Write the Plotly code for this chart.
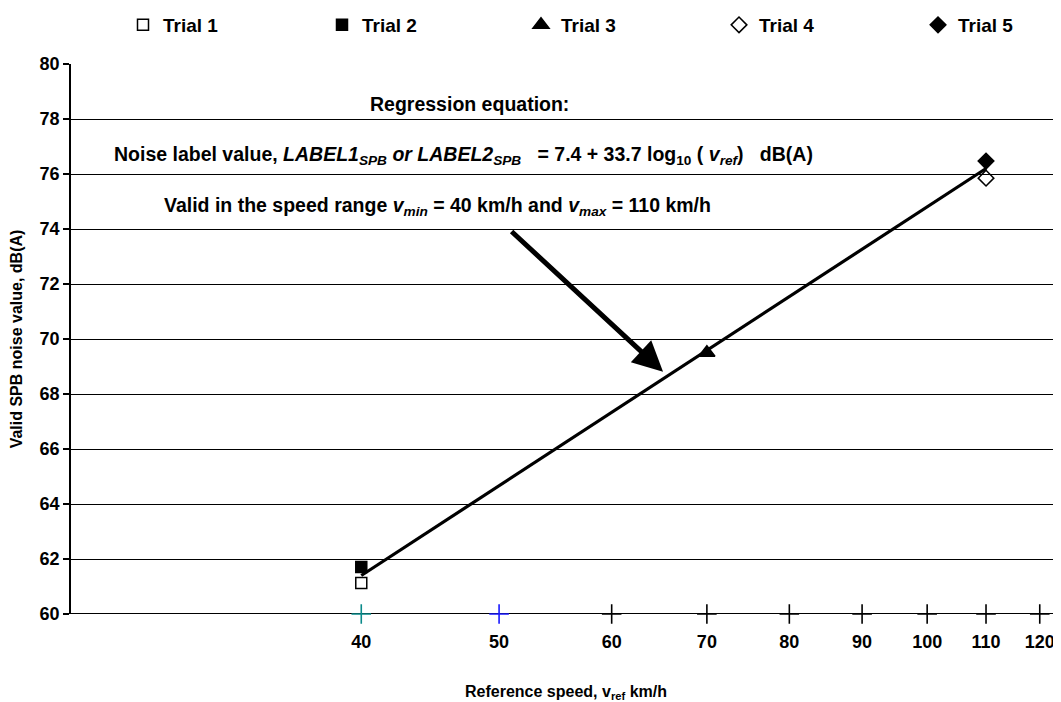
import math
import plotly.graph_objects as go

# ---- data ----
trial_names = ["Trial 1", "Trial 2", "Trial 3", "Trial 4", "Trial 5"]
trial_speed = [40, 40, 70, 110, 110]
trial_noise = [61.13, 61.71, 69.5, 75.85, 76.47]
trial_symbols = ["square-open", "square", "triangle-up", "diamond-open", "diamond"]
trial_sizes = [11, 11, 14, 12, 12]

reg_speed = [40, 110]
reg_noise = [61.4, 76.2]

axis_speeds = [40, 50, 60, 70, 80, 90, 100, 110, 120]
axis_cross_colors = ["#0a8a8a", "#1a1aff", "black", "black", "black", "black", "black", "black", "black"]
axis_cross_level = [60] * len(axis_speeds)

y_ticks = list(range(60, 81, 2))

arrow_tail = (50.9, 73.96)
arrow_head = (65.2, 68.81)

FONT = "Liberation Sans, Arial, sans-serif"

# the page places the figure 8 px in from the top-left corner
OFF = 8
W, H = 1053, 694
ML, MR, MT, MB = 63, 0, 56, 88
PW = W - ML - MR
PH = H - MT - MB

fig = go.Figure()

# regression line
fig.add_trace(go.Scatter(x=reg_speed, y=reg_noise, mode="lines",
                         line=dict(color="black", width=3.2),
                         showlegend=False, hoverinfo="skip"))

# crosses on the axis
fig.add_trace(go.Scatter(x=axis_speeds, y=axis_cross_level, mode="markers",
                         marker=dict(symbol="cross-thin", size=14,
                                     line=dict(color=axis_cross_colors, width=1.6)),
                         showlegend=False, cliponaxis=False, hoverinfo="skip"))

legend_ids = ["legend", "legend2", "legend3", "legend4", "legend5"]
legend_left_px = [123, 322, 521, 719, 918]

for name, xs, ys, sym, sz, lg in zip(trial_names, trial_speed, trial_noise,
                                     trial_symbols, trial_sizes, legend_ids):
    fig.add_trace(go.Scatter(
        x=[xs], y=[ys], name=name, mode="markers", legend=lg,
        marker=dict(symbol=sym, size=sz, color="black",
                    line=dict(color="black", width=1.5)),
        cliponaxis=False))

xr = [math.log10(25), math.log10(124.2)]

leg_font = dict(family=FONT, size=19, color="black", weight="bold")
legend_layout = {}
for lg, lpx in zip(legend_ids, legend_left_px):
    legend_layout[lg] = dict(orientation="h", xref="container", yref="container",
                             x=(lpx - OFF) / W, y=1 - (25 - OFF) / H,
                             xanchor="left", yanchor="middle",
                             itemwidth=30, font=leg_font, bgcolor="rgba(0,0,0,0)")

fig.update_layout(
    width=W, height=H,
    margin=dict(l=ML, r=MR, t=MT, b=MB),
    paper_bgcolor="white", plot_bgcolor="white",
    font=dict(family=FONT, size=18, color="black"),
    xaxis=dict(type="log", range=xr, tickvals=axis_speeds,
               ticktext=[str(v) for v in axis_speeds],
               showgrid=False, zeroline=False, showline=False, automargin=False,
               ticks="", ticklabelstandoff=15,
               tickfont=dict(family=FONT, size=18, color="black", weight="bold"),
               title=dict(text="Reference speed, v<sub>ref</sub> km/h",
                          font=dict(family=FONT, size=16, color="black", weight="bold"),
                          standoff=43)),
    yaxis=dict(range=[60, 80], tickvals=y_ticks,
               showgrid=True, gridcolor="black", gridwidth=1, automargin=False,
               zeroline=False, showline=True, linecolor="black", linewidth=1.5,
               ticks="outside", ticklen=6, tickcolor="black", tickwidth=1.5,
               tickfont=dict(family=FONT, size=18, color="black", weight="bold"),
               title=dict(text="Valid SPB noise value, dB(A)",
                          font=dict(family=FONT, size=16, color="black", weight="bold"),
                          standoff=14)),
    **legend_layout,
)

# bottom axis line (x = 60 gridline drawn thicker)
fig.add_shape(type="line", xref="paper", yref="y", x0=0, x1=1, y0=60, y1=60,
              line=dict(color="black", width=1.8), layer="below")

ann_font = dict(family=FONT, size=19.5, color="black", weight="bold")
ann_common = dict(xref="paper", yref="paper", showarrow=False,
                  xanchor="center", yanchor="middle", font=ann_font)
fig.add_annotation(x=0.403, y=0.927, text="Regression equation:", **ann_common)
fig.add_annotation(x=0.396, y=0.833,
                   text="Noise label value, <i>LABEL1</i><sub><i>SPB</i></sub> <i>or LABEL2</i><sub><i>SPB</i></sub>"
                        "   = 7.4 + 33.7 log<sub>10</sub> ( <i>v</i><sub><i>ref</i></sub>)   dB(A)",
                   **ann_common)
fig.add_annotation(x=0.370, y=0.741,
                   text="Valid in the speed range <i>v</i><sub><i>min</i></sub> = 40 km/h and "
                        "<i>v</i><sub><i>max</i></sub> = 110 km/h",
                   **ann_common)

fig.add_annotation(x=math.log10(arrow_head[0]), y=arrow_head[1],
                   ax=math.log10(arrow_tail[0]), ay=arrow_tail[1],
                   xref="x", yref="y", axref="x", ayref="y",
                   text="", showarrow=True, arrowhead=2, arrowsize=1.2,
                   arrowwidth=5, arrowcolor="black", standoff=0)

fig.write_html("out.html")
